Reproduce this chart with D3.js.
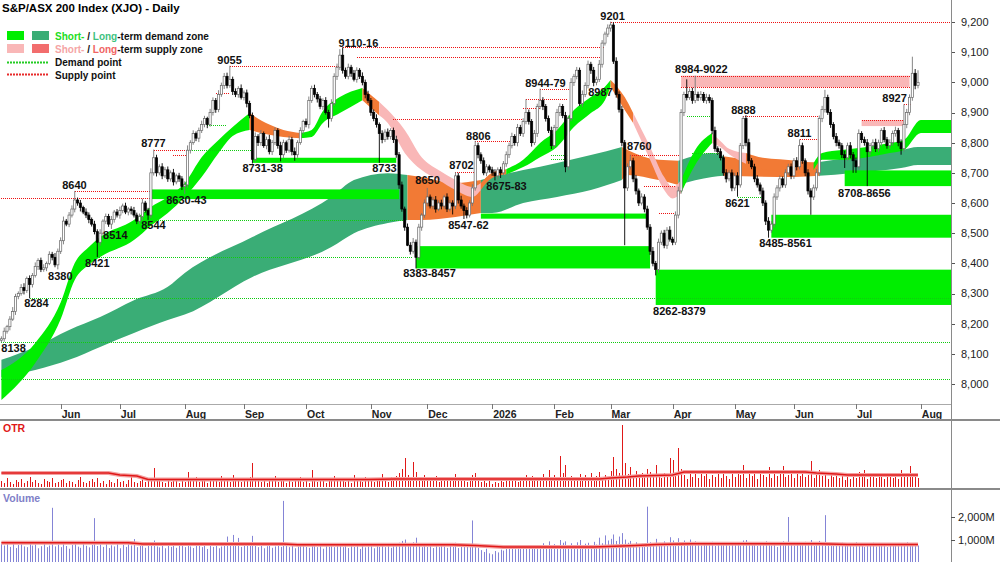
<!DOCTYPE html>
<html>
<head>
<meta charset="utf-8">
<script src="https://cdn.jsdelivr.net/npm/d3@7.9.0/dist/d3.min.js"></script>
<style>
  body { margin: 0; background: #fff; }
  svg { display: block; font-family: "Liberation Sans", Arial, sans-serif; }
</style>
</head>
<body>
<svg width="1000" height="562"></svg>
<script>
/* daily candles, May 2025 - Jul 2026 (one value per trading day) */
const firstOpen = 8145;
const closes = [
  8150,8175,8190,8215,8240,8290,8300,8320,8310,8350,
  8330,8360,8390,8410,8380,8385,8400,8430,8420,8395,
  8440,8475,8540,8530,8560,8580,8610,8600,8585,8570,
  8560,8545,8530,8505,8470,8500,8540,8555,8530,8545,
  8570,8560,8575,8590,8570,8580,8575,8560,8540,8555,
  8600,8575,8560,8700,8750,8700,8720,8690,8710,8680,
  8700,8670,8690,8680,8655,8660,8775,8800,8830,8815,
  8840,8860,8880,8860,8900,8940,8910,8960,8990,9020,
  8990,9010,8970,8960,8980,8950,8965,8930,8890,8745,
  8820,8800,8830,8790,8810,8770,8800,8840,8790,8760,
  8800,8775,8810,8770,8760,8800,8840,8870,8860,8940,
  8980,8960,8945,8920,8940,8900,8880,8930,9020,9050,
  9090,9040,9020,9050,9030,9010,9040,9020,9000,8960,
  8940,8900,8880,8860,8830,8810,8835,8820,8840,8810,
  8760,8660,8580,8520,8460,8440,8470,8420,8520,8560,
  8600,8620,8590,8610,8580,8600,8590,8620,8580,8600,
  8590,8690,8610,8590,8575,8560,8600,8650,8790,8760,
  8740,8700,8720,8710,8700,8690,8710,8700,8730,8760,
  8790,8820,8800,8850,8830,8870,8900,8870,8800,8830,
  8920,8940,8920,8880,8840,8790,8850,8900,8920,8890,
  8720,8880,9000,9020,9040,8930,8960,8990,9060,9040,
  9000,9010,9060,9130,9160,9180,9190,9070,8960,8910,
  8800,8650,8720,8740,8680,8640,8600,8620,8580,8520,
  8440,8400,8380,8470,8500,8460,8510,8480,8470,8560,
  8640,8900,8960,8950,8970,8940,8960,8950,8960,8940,
  8950,8940,8840,8780,8770,8750,8700,8680,8700,8650,
  8690,8660,8790,8880,8800,8740,8720,8680,8660,8640,
  8600,8540,8510,8530,8620,8650,8680,8660,8700,8720,
  8690,8740,8720,8790,8740,8700,8640,8620,8650,8700,
  8880,8910,8950,8900,8860,8820,8800,8790,8760,8750,
  8790,8760,8740,8720,8830,8810,8800,8770,8790,8800,
  8780,8800,8840,8810,8790,8800,8830,8840,8800,8780,
  8860,8900,8950,9030,8990,9000
];
const upWick = [
  8,12,6,10,15,9,7,11,14,6,10,8,13,7,9,12,6,10,8,14,
  9,11,15,7,10,12,30,8,10,6,12,9,7,11,8,13,6,10,9,12,
  7,10,13,8,11,6,9,12,8,10,14,7,9,15,27,10,8,12,9,11,
  8,13,7,10,9,12,16,8,11,7,10,13,9,6,12,10,8,14,9,11,
  12,45,9,10,7,13,8,11,9,10,14,8,12,7,10,16,9,11,8,13,
  10,7,12,9,14,8,11,6,10,13,9,12,8,10,7,11,9,14,10,12,
  20,26,9,12,8,11,10,7,13,9,12,8,10,14,7,11,9,12,8,10,
  13,9,11,8,12,10,14,9,11,7,12,30,8,10,13,9,11,7,12,10,
  9,12,10,14,8,11,9,12,16,10,8,11,9,7,10,12,8,10,9,11,
  10,13,8,12,9,11,44,10,8,12,9,39,11,8,10,13,9,12,10,8,
  12,10,14,8,11,9,13,10,12,8,11,9,14,10,8,12,11,9,13,10,
  12,9,11,20,10,13,8,12,9,11,10,14,8,12,9,11,10,13,8,12,
  14,11,9,50,10,12,62,9,11,8,12,10,9,13,8,11,10,12,9,11,
  10,12,9,8,11,13,9,10,12,8,11,9,13,10,12,9,11,8,12,10,
  11,9,12,21,10,8,12,9,11,13,10,12,25,9,11,8,12,10,9,13,
  10,12,9,11,14,8,10,12,9,11,13,10,8,12,9,11,10,13,9,11,
  67,12,10,55,14,40
];
const dnWick = [
  7,10,8,12,6,11,9,7,13,8,46,10,7,12,9,8,11,6,10,8,
  15,9,12,7,10,8,11,9,13,7,10,12,8,9,49,11,7,10,9,16,
  10,8,12,9,7,11,13,8,10,9,12,7,16,10,9,12,8,11,7,10,
  9,12,8,10,12,25,9,11,7,10,13,8,9,12,7,10,11,9,8,12,
  10,8,12,9,11,7,10,13,9,14,8,11,10,7,12,9,11,8,10,22,
  11,9,8,12,20,10,7,11,9,13,8,10,12,9,11,7,30,10,8,12,
  9,11,8,10,12,7,11,9,10,13,8,11,9,10,97,12,8,10,9,11,
  10,13,9,12,3,11,8,37,10,12,9,11,8,10,12,7,11,9,10,8,
  28,10,12,9,28,11,8,10,9,12,10,8,11,9,10,15,12,17,8,10,
  11,9,10,12,8,11,9,10,13,8,11,9,12,10,8,11,9,10,12,9,
  18,11,9,12,10,8,11,9,10,12,13,10,9,11,8,10,12,9,11,10,
  12,190,10,9,11,12,10,8,11,9,12,10,20,11,9,10,12,8,10,9,
  11,9,12,10,8,11,9,12,10,8,11,9,12,10,11,9,10,12,8,11,
  10,39,9,11,12,10,8,11,9,12,10,13,25,9,11,10,12,9,10,8,
  11,10,12,9,10,11,12,59,10,9,11,12,10,8,11,9,12,10,11,34,
  10,12,40,20,9,11,10,114,12,9,11,10,12,9,10,11,9,10,12,20,
  10,12,9,11,13,10
];
const otr = [
  6,4,9,5,3,7,5,8,4,6,10,5,7,4,3,8,6,5,9,4,
  5,7,8,4,6,5,3,7,10,5,4,6,8,5,9,4,6,3,7,5,
  4,8,5,6,3,7,12,5,4,6,8,5,7,9,19,6,8,5,4,7,
  5,9,6,4,8,5,15,7,6,10,5,8,6,4,9,6,7,5,11,6,
  8,5,12,6,7,5,9,6,10,24,8,6,5,9,4,7,6,11,5,8,
  6,4,9,5,7,6,10,5,8,4,17,6,5,9,7,4,8,6,11,7,
  9,6,5,8,4,12,6,7,5,10,6,8,5,9,7,13,6,5,10,8,
  11,14,18,29,12,9,25,15,10,8,12,6,9,7,11,5,8,6,10,7,
  9,13,6,8,10,5,7,12,14,6,5,8,4,6,3,5,4,6,5,7,
  6,8,10,5,9,7,12,6,11,8,10,6,13,7,17,9,12,8,31,14,
  22,9,11,7,10,13,8,12,6,14,9,11,15,10,12,8,16,30,18,14,
  62,24,13,20,11,16,9,14,12,18,15,10,22,12,9,14,11,29,27,13,
  39,18,12,8,15,10,13,9,16,11,14,8,12,10,17,9,13,11,8,15,
  10,14,12,22,9,16,11,13,8,15,12,10,20,9,14,11,13,21,10,12,
  15,9,13,11,16,10,12,26,9,14,17,11,15,8,13,10,12,9,14,7,
  11,8,13,9,15,10,17,8,12,10,9,14,11,8,12,10,9,13,8,17,
  12,10,21,13,11,9
];
const volume = [
  820,760,880,700,910,650,780,840,720,690,880,760,810,640,730,870,690,760,2400,720,
  800,690,860,740,620,780,900,710,660,830,750,680,790,1950,740,810,700,860,650,770,
  720,880,640,790,700,830,760,1040,690,740,810,660,900,760,980,720,680,790,640,750,
  700,820,660,740,780,690,860,720,650,800,740,690,830,610,760,700,880,640,720,790,
  1150,820,1220,760,1090,700,840,780,900,1180,760,690,810,640,730,780,660,720,850,700,
  2700,760,690,810,640,720,780,850,700,660,830,740,690,800,620,760,710,850,690,740,
  800,690,760,650,820,700,740,610,790,680,720,850,640,760,700,830,690,740,660,800,
  780,880,960,1020,860,740,900,1100,780,690,820,700,760,650,740,690,800,720,660,780,
  700,880,650,760,720,810,690,1850,740,650,560,480,620,420,380,520,460,580,540,610,
  660,720,600,690,740,650,780,700,620,760,680,720,860,700,940,760,820,690,1000,880,
  940,780,860,720,900,1000,760,840,880,700,920,800,1100,860,1200,980,1050,1240,960,1150,
  1300,1020,880,960,820,900,760,840,720,2450,900,860,1050,780,820,940,760,1120,980,860,
  1080,900,980,860,1020,780,940,820,760,900,860,800,920,740,860,780,900,820,760,880,
  800,860,760,980,1000,820,780,900,740,860,800,940,880,760,820,700,860,940,780,2000,
  820,760,900,840,780,920,860,1000,740,880,960,860,2080,900,780,840,760,820,880,740,
  800,860,720,900,780,840,700,820,760,880,720,800,760,840,700,780,820,740,860,780,
  840,900,780,860,820,760
];

/* averages drawn in the lower panels */
const otrAvgIdx = [0, 38, 42, 48, 52, 130, 140, 212, 216, 222, 226, 238, 242, 285, 289, 296, 300, 325];
const otrAvgVal = [14, 14, 12, 11, 7.5, 7.5, 8, 8, 9, 10, 11, 12, 15, 15, 14, 13, 12, 12];
const volAvgIdx = [0, 45, 50, 100, 105, 160, 168, 178, 210, 225, 232, 245, 290, 300, 325];
const volAvgVal = [880, 880, 830, 830, 790, 790, 760, 700, 700, 760, 800, 840, 840, 800, 800];

/* short-term band: g = demand, o/p = supply */
const stIdx = [0,12,21,26,31,35,47,53,59,65,71,77,82,88,95,100,106,110,114,120,128,134,137,143,149,155,161,167,170,174,179,185,191,197,203,209,214,216,221,224,230,235,238,241,246,252,255,258,264,270,276,282,288,291,298,307,315,320,326,337];
const stTop = [8046,8136,8270,8401,8454,8487,8544,8587,8620,8666,8752,8809,8852,8898,8860,8842,8832,8842,8905,8951,8981,8935,8908,8842,8752,8709,8676,8653,8666,8700,8712,8743,8799,8842,8908,8951,8985,9008,8951,8898,8786,8686,8653,8676,8776,8832,8805,8780,8766,8750,8745,8740,8733,8766,8776,8786,8799,8809,8875,8875];
const stBot = [7947,8070,8215,8345,8395,8421,8477,8525,8567,8620,8686,8766,8822,8842,8826,8819,8815,8819,8865,8898,8941,8890,8865,8766,8709,8676,8643,8620,8643,8683,8695,8719,8752,8786,8852,8898,8941,8985,8908,8865,8743,8643,8615,8633,8726,8799,8785,8762,8730,8712,8705,8700,8709,8743,8743,8752,8766,8776,8832,8832];
const stState = ['g','g','g','g','g','g','g','g','g','g','g','g','g','o','o','o','g','g','g','g','o','p','p','p','p','p','p','p','o','o','g','g','g','g','g','g','g','o','o','p','p','p','p','g','g','p','p','p','o','o','o','o','g','g','g','g','g','g','g','g'];

/* long-term band: d = demand, o = supply */
const ltIdx = [0,12,24,35,47,59,65,89,117,125,137,144,149,161,170,174,185,197,209,220,222,233,240,252,256,281,290,301,319,325,337];
const ltTop = [8080,8123,8179,8222,8278,8322,8368,8487,8620,8676,8699,8693,8686,8666,8676,8686,8709,8733,8759,8786,8776,8743,8740,8766,8755,8733,8736,8752,8776,8786,8786];
const ltBot = [8023,8046,8080,8123,8169,8212,8230,8355,8454,8500,8534,8544,8544,8554,8567,8567,8600,8620,8643,8676,8693,8676,8660,8686,8690,8686,8690,8699,8716,8726,8726];
const ltState = ['d','d','d','d','d','d','d','d','d','d','d','o','o','o','d','d','d','d','d','o','o','o','d','d','o','o','d','d','d','d','d'];

/* zones: [top, bottom, fromIdx, toIdx] ; END = right edge */
const END = 340;
const demandZones = [
  [8645, 8613, 53, 141], [8750, 8733, 89, 140], [8565, 8548, 170, 229],
  [8457, 8383, 147, 230], [8379, 8262, 232, END], [8561, 8485, 273, END], [8708, 8656, 299, END]
];
const supplyZones = [[9022, 8984, 241, 322], [8875, 8855, 305, 320]];

/* points: [price, fromIdx, toIdx] */
const supplyPoints = [
  [8617, 0, 53], [8640, 26, 53], [8777, 54, 66], [8758, 61, 66], [8965, 76, 81],
  [9055, 81, 120], [9116, 121, 214], [9085, 126, 213], [8880, 139, 185], [8702, 161, 168],
  [8806, 168, 181], [8915, 185, 191], [8979, 191, 202], [8944, 186, 201], [9201, 216, END],
  [8760, 223, 241], [8656, 228, 239], [8567, 233, 239], [8888, 263, 290], [8811, 283, 290],
  [8927, 320, 323], [9022, 241, 322], [8984, 241, 322], [8875, 305, 320]
];
const demandPoints = [
  [8016, 0, END], [8138, 0, END], [8284, 10, END], [8421, 34, 146], [8544, 52, 143],
  [8776, 66, 89], [8860, 73, 80], [8760, 195, 201], [8745, 195, 201], [8890, 243, 252],
  [8766, 245, 255], [8621, 261, 270]
];

/* level labels: [text, idx, price] */
const labels = [
  ["8138", 4.3, 8119], ["8284", 12.4, 8268], ["8380", 20.9, 8358], ["8421", 34.0, 8401],
  ["8514", 40.4, 8494], ["8544", 53.9, 8527], ["8640", 25.9, 8660], ["8777", 53.9, 8799],
  ["8630-43", 65.6, 8610], ["9055", 80.9, 9074], ["8731-38", 92.6, 8716], ["9110-16", 126.6, 9130],
  ["8733", 135.8, 8716], ["8383-8457", 151.8, 8368], ["8650", 151.1, 8676], ["8702", 163.1, 8726],
  ["8547-62", 165.6, 8527], ["8806", 169.1, 8822], ["8675-83", 179.1, 8656], ["8944-79", 192.9, 8998],
  ["8987", 212.4, 8968], ["9201", 216.7, 9220], ["8760", 226.2, 8789], ["8262-8379", 240.4, 8242],
  ["8984-9022", 248.2, 9044], ["8888", 263.1, 8908], ["8621", 261.0, 8600], ["8485-8561", 278.0, 8467],
  ["8811", 283.0, 8832], ["8708-8656", 306.0, 8633], ["8927", 316.7, 8948]
];

const priceTicks = [8000, 8100, 8200, 8300, 8400, 8500, 8600, 8700, 8800, 8900, 9000, 9100, 9200];
const volTicks = [1000, 2000];

/* layout */
const plotR = 951;
const svg = d3.select('svg');

// trading days (weekdays) starting 2 May 2025
const dates = [];
let day = new Date(2025, 4, 2);
while (dates.length < 337) {
  if (day.getDay() !== 0 && day.getDay() !== 6) dates.push(new Date(day));
  day.setDate(day.getDate() + 1);
}

const x = d3.scaleLinear().domain([-0.5, 336.7]).range([0, plotR]);
const y = d3.scaleLinear().domain([8000, 9200]).range([384, 22]);
const yO = d3.scaleLinear().domain([0, 65]).range([487, 422]);
const yV = d3.scaleLinear().domain([0, 2000]).range([563, 517]);

const defs = svg.append('defs');
defs.append('clipPath').attr('id', 'cp').append('rect').attr('x', 0).attr('y', 0).attr('width', plotR).attr('height', 404);
defs.append('clipPath').attr('id', 'co').append('rect').attr('x', 0).attr('y', 421).attr('width', plotR).attr('height', 67);
defs.append('clipPath').attr('id', 'cv').append('rect').attr('x', 0).attr('y', 490).attr('width', plotR).attr('height', 72);

const g = svg.append('g').attr('clip-path', 'url(#cp)');

/* ribbons */
const area = d3.area()
  .x(d => x(d.i)).y0(d => y(d.b)).y1(d => y(d.t))
  .curve(d3.curveMonotoneX);

function drawRibbon(idx, top, bot, state, colors) {
  const pts = idx.map((v, k) => ({ i: v, t: top[k], b: bot[k], s: state[k] }));
  let start = 0;
  for (let k = 1; k <= pts.length; k++) {
    if (k === pts.length || pts[k].s !== pts[start].s) {
      const seg = pts.slice(start, Math.min(k + 1, pts.length));
      if (seg.length > 1) {
        g.append('path').datum(seg).attr('d', area).attr('fill', colors[pts[start].s]);
      }
      start = k;
    }
  }
}
drawRibbon(ltIdx, ltTop, ltBot, ltState, { d: '#3aad76', o: '#f27a35' });
drawRibbon(stIdx, stTop, stBot, stState, { g: '#00ee00', p: '#f9b7b7', o: '#f27a35' });

/* zones */
g.selectAll('.dz').data(demandZones).join('rect')
  .attr('x', d => x(d[2])).attr('width', d => x(d[3]) - x(d[2]))
  .attr('y', d => y(d[0])).attr('height', d => y(d[1]) - y(d[0]))
  .attr('fill', '#00ee00');
g.selectAll('.sz').data(supplyZones).join('rect')
  .attr('x', d => x(d[2])).attr('width', d => x(d[3]) - x(d[2]))
  .attr('y', d => y(d[0])).attr('height', d => y(d[1]) - y(d[0]))
  .attr('fill', '#f9b7b7');

/* supply / demand points */
function dotted(data, color) {
  g.append('g').selectAll('line').data(data).join('line')
    .attr('x1', d => Math.round(x(d[1]))).attr('x2', d => Math.round(x(d[2])))
    .attr('y1', d => Math.round(y(d[0])) + 0.5).attr('y2', d => Math.round(y(d[0])) + 0.5)
    .attr('stroke', color).attr('stroke-width', 1).attr('stroke-dasharray', '1,1')
    .attr('shape-rendering', 'crispEdges');
}
dotted(demandPoints, '#0fcc0f');
dotted(supplyPoints, '#ee1111');

/* candles */
const candles = closes.map((c, i) => {
  const o = i === 0 ? firstOpen : closes[i - 1];
  return { i, o, c, h: Math.max(o, c) + upWick[i], l: Math.min(o, c) - dnWick[i] };
});
const cg = g.append('g');
cg.selectAll('line').data(candles).join('line')
  .attr('x1', d => x(d.i)).attr('x2', d => x(d.i))
  .attr('y1', d => y(d.h)).attr('y2', d => y(d.l))
  .attr('stroke', d => d.c >= d.o ? '#777' : '#000').attr('stroke-width', 0.9);
cg.selectAll('rect').data(candles).join('rect')
  .attr('x', d => x(d.i) - 1.1).attr('width', 2.2)
  .attr('y', d => y(Math.max(d.o, d.c)))
  .attr('height', d => Math.max(0.8, Math.abs(y(d.o) - y(d.c))))
  .attr('fill', d => d.c >= d.o ? '#fff' : '#000')
  .attr('stroke', d => d.c >= d.o ? '#666' : '#000').attr('stroke-width', 0.7);

/* level labels */
g.append('g').selectAll('text').data(labels).join('text')
  .attr('x', d => x(d[1])).attr('y', d => y(d[2]))
  .attr('dy', '0.35em').attr('text-anchor', 'middle')
  .attr('font-size', 11).attr('font-weight', 'bold').attr('fill', '#111')
  .text(d => d[0]);

/* title + legend */
svg.append('text').attr('x', 2).attr('y', 12).attr('font-size', 11.5).attr('font-weight', 'bold')
  .text('S&P/ASX 200 Index (XJO) - Daily');

const lg = svg.append('g').attr('font-size', 10).attr('font-weight', 'bold');
lg.append('rect').attr('x', 7).attr('y', 31).attr('width', 17).attr('height', 9).attr('fill', '#00ee00');
lg.append('rect').attr('x', 32).attr('y', 31).attr('width', 17).attr('height', 9).attr('fill', '#3aad76');
lg.append('rect').attr('x', 7).attr('y', 44).attr('width', 17).attr('height', 9).attr('fill', '#f9b7b7');
lg.append('rect').attr('x', 32).attr('y', 44).attr('width', 17).attr('height', 9).attr('fill', '#f26d6d');
lg.append('line').attr('x1', 7).attr('x2', 49).attr('y1', 62.5).attr('y2', 62.5)
  .attr('stroke', '#22cc22').attr('stroke-dasharray', '2,1').attr('stroke-width', 2);
lg.append('line').attr('x1', 7).attr('x2', 49).attr('y1', 74.5).attr('y2', 74.5)
  .attr('stroke', '#e82a2a').attr('stroke-dasharray', '2,1').attr('stroke-width', 2);

function legendRow(yy, parts) {
  const t = lg.append('text').attr('x', 55).attr('y', yy);
  parts.forEach(([s, c]) => t.append('tspan').attr('fill', c).text(s));
}
legendRow(39.5, [['Short-', '#22dd22'], [' / ', '#111'], ['Long', '#3ec27f'], ['-term demand zone', '#111']]);
legendRow(52.5, [['Short-', '#f5a5a5'], [' / ', '#111'], ['Long', '#f06464'], ['-term supply zone', '#111']]);
legendRow(66, [['Demand point', '#111']]);
legendRow(78.5, [['Supply point', '#111']]);

/* right price axis */
const ax = svg.append('g').attr('font-size', 11).attr('fill', '#222');
ax.selectAll('line').data(priceTicks).join('line')
  .attr('x1', plotR).attr('x2', plotR + 4)
  .attr('y1', d => Math.round(y(d)) + 0.5).attr('y2', d => Math.round(y(d)) + 0.5)
  .attr('stroke', '#555');
ax.selectAll('text').data(priceTicks).join('text')
  .attr('x', 961).attr('y', d => y(d)).attr('dy', '0.35em')
  .text(d => d3.format(',')(d));

/* month axis */
const monthTicks = [];
for (let i = 1; i < dates.length; i++) {
  if (dates[i].getMonth() !== dates[i - 1].getMonth()) monthTicks.push(i);
}
svg.append('line').attr('x1', 0).attr('x2', plotR).attr('y1', 404.5).attr('y2', 404.5).attr('stroke', '#aaa');
const mx = svg.append('g').attr('font-size', 10.5).attr('font-weight', 'bold').attr('fill', '#222');
mx.selectAll('line').data(monthTicks).join('line')
  .attr('x1', d => Math.round(x(d)) + 0.5).attr('x2', d => Math.round(x(d)) + 0.5)
  .attr('y1', 404).attr('y2', 409).attr('stroke', '#777');
mx.selectAll('text').data(monthTicks).join('text')
  .attr('x', d => x(d) + 1).attr('y', 418)
  .text(d => dates[d].getMonth() === 0 ? d3.timeFormat('%Y')(dates[d]) : d3.timeFormat('%b')(dates[d]));

/* panel frames */
svg.append('line').attr('x1', 0).attr('x2', 1000).attr('y1', 420).attr('y2', 420).attr('stroke', '#8a8a8a').attr('stroke-width', 2);
svg.append('line').attr('x1', 0).attr('x2', 1000).attr('y1', 489).attr('y2', 489).attr('stroke', '#8a8a8a').attr('stroke-width', 2);
svg.append('line').attr('x1', plotR + 0.5).attr('x2', plotR + 0.5).attr('y1', 0).attr('y2', 562).attr('stroke', '#8a8a8a');

/* OTR panel */
const og = svg.append('g').attr('clip-path', 'url(#co)');
og.selectAll('line').data(otr).join('line')
  .attr('x1', (d, i) => Math.round(x(i)) + 0.5).attr('x2', (d, i) => Math.round(x(i)) + 0.5)
  .attr('y1', yO(0)).attr('y2', d => yO(d))
  .attr('stroke', '#e01818').attr('stroke-width', 1);
const otrLine = d3.line().x(d => x(d[0])).y(d => yO(d[1]));
const otrAvg = otrAvgIdx.map((v, k) => [v, otrAvgVal[k]]);
og.append('path').datum(otrAvg).attr('d', otrLine).attr('fill', 'none').attr('stroke', '#f4a0a0').attr('stroke-width', 4);
og.append('path').datum(otrAvg).attr('d', otrLine).attr('fill', 'none').attr('stroke', '#e01818').attr('stroke-width', 1.5);
svg.append('text').attr('x', 3).attr('y', 432).attr('font-size', 10.5).attr('font-weight', 'bold').attr('fill', '#e01818').text('OTR');

/* volume panel */
const vg = svg.append('g').attr('clip-path', 'url(#cv)');
vg.selectAll('line').data(volume).join('line')
  .attr('x1', (d, i) => Math.round(x(i)) + 0.5).attr('x2', (d, i) => Math.round(x(i)) + 0.5)
  .attr('y1', yV(0)).attr('y2', d => yV(d))
  .attr('stroke', '#8484d6').attr('stroke-width', 1);
const volLine = d3.line().x(d => x(d[0])).y(d => yV(d[1]));
const volAvg = volAvgIdx.map((v, k) => [v, volAvgVal[k]]);
vg.append('path').datum(volAvg).attr('d', volLine).attr('fill', 'none').attr('stroke', '#f4a0a0').attr('stroke-width', 4);
vg.append('path').datum(volAvg).attr('d', volLine).attr('fill', 'none').attr('stroke', '#e01818').attr('stroke-width', 1.5);
svg.append('text').attr('x', 3).attr('y', 502).attr('font-size', 10.5).attr('font-weight', 'bold').attr('fill', '#8080c8').text('Volume');

const vx = svg.append('g').attr('font-size', 11).attr('fill', '#222');
vx.selectAll('line').data(volTicks).join('line')
  .attr('x1', plotR).attr('x2', plotR + 4)
  .attr('y1', d => Math.round(yV(d)) + 0.5).attr('y2', d => Math.round(yV(d)) + 0.5)
  .attr('stroke', '#555');
vx.selectAll('text').data(volTicks).join('text')
  .attr('x', 958).attr('y', d => yV(d)).attr('dy', '0.35em')
  .text(d => d3.format(',')(d) + 'M');
</script>
</body>
</html>
